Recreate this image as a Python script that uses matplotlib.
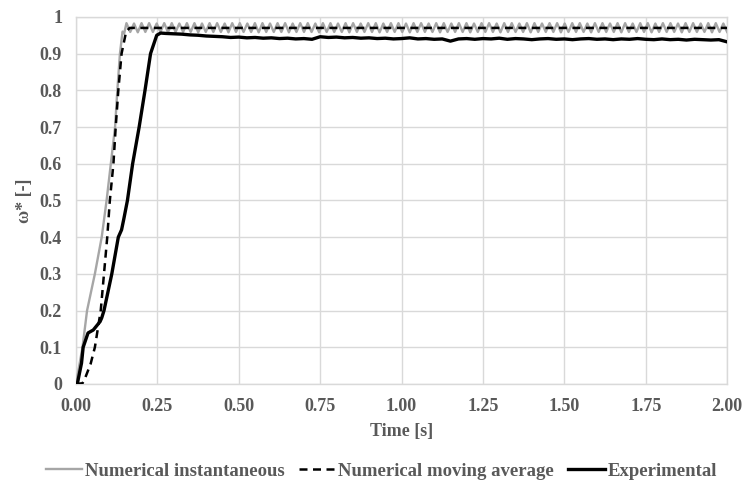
import numpy as np
import matplotlib
matplotlib.use("Agg")
import matplotlib.pyplot as plt

# ---- datos ----
# Numerico instantaneo: rampa de arranque
inst_t = [0, 0.020, 0.034, 0.058, 0.079, 0.094, 0.107, 0.120, 0.127, 0.135, 0.143, 0.148]
inst_v = [0, 0.10, 0.20, 0.30, 0.40, 0.50, 0.60, 0.70, 0.80, 0.90, 0.960, 0.955]
# Numerico instantaneo: oscilacion en regimen (picos / valles, 0.155 s -> 2.0 s)
inst_osc_v = [
    0.983, 0.959, 0.982, 0.958, 0.983, 0.959, 0.983, 0.959, 0.982, 0.959, 0.983, 0.958, 0.983, 0.959, 0.982, 0.959,
    0.983, 0.959, 0.983, 0.958, 0.982, 0.959, 0.983, 0.959, 0.983, 0.959, 0.982, 0.958, 0.983, 0.959, 0.983, 0.959,
    0.982, 0.959, 0.983, 0.958, 0.983, 0.959, 0.982, 0.959, 0.983, 0.959, 0.983, 0.958, 0.982, 0.959, 0.983, 0.959,
    0.983, 0.959, 0.982, 0.958, 0.983, 0.959, 0.983, 0.959, 0.982, 0.959, 0.983, 0.958, 0.983, 0.959, 0.982, 0.959,
    0.983, 0.959, 0.983, 0.958, 0.982, 0.959, 0.983, 0.959, 0.983, 0.959, 0.982, 0.958, 0.983, 0.959, 0.983, 0.959,
    0.982, 0.959, 0.983, 0.958, 0.983, 0.959, 0.982, 0.959, 0.983, 0.959, 0.983, 0.958, 0.982, 0.959, 0.983, 0.959,
    0.983, 0.959, 0.982, 0.958, 0.983, 0.959, 0.983, 0.959, 0.982, 0.959, 0.983, 0.958, 0.983, 0.959, 0.982, 0.959,
    0.983, 0.959, 0.983, 0.958, 0.982, 0.959, 0.983, 0.959, 0.983, 0.959, 0.982, 0.958, 0.983, 0.959, 0.983, 0.959,
    0.982, 0.959, 0.983, 0.958, 0.983, 0.959, 0.982, 0.959, 0.983, 0.959, 0.983, 0.958, 0.982, 0.959, 0.983, 0.959,
    0.983, 0.959, 0.982, 0.958, 0.983, 0.959, 0.983, 0.959, 0.982, 0.959, 0.983, 0.958, 0.983, 0.959, 0.982, 0.959,
]
inst_osc_t = np.linspace(0.155, 2.0, len(inst_osc_v))

# Numerico media movil
avg_t = [0, 0.020, 0.028, 0.045, 0.058, 0.076, 0.086, 0.096, 0.104, 0.115, 0.122, 0.130, 0.140, 0.154, 0.165, 2.0]
avg_v = [0, 0.002, 0.016, 0.055, 0.10, 0.20, 0.30, 0.40, 0.50, 0.60, 0.70, 0.80, 0.90, 0.960, 0.970, 0.970]

# Experimental: arranque
exp_t = [0, 0.004, 0.017, 0.022, 0.037, 0.053, 0.074, 0.079, 0.086, 0.098, 0.110, 0.130, 0.140,
         0.147, 0.158, 0.174, 0.194, 0.212, 0.229, 0.248, 0.260, 0.275]
exp_v = [0, 0.0, 0.057, 0.10, 0.139, 0.147, 0.170, 0.180, 0.20, 0.25, 0.30, 0.40, 0.42,
         0.45, 0.50, 0.60, 0.70, 0.80, 0.90, 0.950, 0.956, 0.955]
# Experimental: regimen, cada 0.025 s desde 0.300 s
exp_ss_v = [
    0.954, 0.953, 0.951, 0.950, 0.948, 0.947, 0.946, 0.944, 0.945, 0.943, 0.944, 0.942,
    0.943, 0.941, 0.942, 0.940, 0.941, 0.939, 0.946, 0.944, 0.945, 0.943, 0.944, 0.942,
    0.943, 0.941, 0.942, 0.940, 0.941, 0.943, 0.940, 0.941, 0.939, 0.940, 0.934, 0.940,
    0.941, 0.939, 0.941, 0.940, 0.942, 0.939, 0.941, 0.940, 0.938, 0.940, 0.941, 0.939,
    0.940, 0.938, 0.940, 0.941, 0.939, 0.940, 0.938, 0.940, 0.939, 0.941, 0.939, 0.938,
    0.940, 0.938, 0.939, 0.937, 0.939, 0.938, 0.937, 0.938, 0.932,
]
exp_ss_t = np.linspace(0.300, 2.0, len(exp_ss_v))

x_ticks = [0, 0.25, 0.5, 0.75, 1.0, 1.25, 1.5, 1.75, 2.0]
y_ticks = [0, 0.1, 0.2, 0.3, 0.4, 0.5, 0.6, 0.7, 0.8, 0.9, 1.0]
y_labels = ["0", "0.1", "0.2", "0.3", "0.4", "0.5", "0.6", "0.7", "0.8", "0.9", "1"]

# ---- estilo ----
txt = "#595959"
grid = "#d9d9d9"
plt.rcParams['font.family'] = ['Liberation Serif', 'DejaVu Serif']
plt.rcParams['font.weight'] = 'bold'

fig = plt.figure(figsize=(7.45, 4.83), dpi=100)
ax = fig.add_axes([0.102, 0.205, 0.874, 0.76])

ax.plot(list(inst_t) + list(inst_osc_t), list(inst_v) + list(inst_osc_v),
        color="#a6a6a6", lw=1.7, label="Numerical instantaneous", zorder=3)
ax.plot(avg_t, avg_v, color="black", lw=1.8, dashes=(3.2, 2.2),
        label="Numerical moving average", zorder=4)
ax.plot(list(exp_t) + list(exp_ss_t), list(exp_v) + list(exp_ss_v),
        color="black", lw=2.4, label="Experimental", zorder=5)

ax.set_xlim(0, 2.0)
ax.set_ylim(0, 1.0)
ax.set_xticks(x_ticks)
ax.set_xticklabels([f"{v:.2f}" for v in x_ticks])
ax.set_yticks(y_ticks)
ax.set_yticklabels(y_labels)
ax.tick_params(length=0, labelsize=13, colors=txt, pad=10)
ax.grid(True, color=grid, lw=1)
for s in ax.spines.values():
    s.set_color(grid)
    s.set_linewidth(1)

ax.set_xlabel("Time [s]", fontsize=13, color=txt, fontweight='bold', labelpad=6)
ax.set_ylabel("ω* [-]", fontsize=13, color=txt, fontweight='bold', labelpad=5)

fig.legend(loc="center", bbox_to_anchor=(0.512, 0.024), ncol=3, frameon=False,
           fontsize=13.5, labelcolor=txt, handlelength=1.95, handletextpad=0.15,
           columnspacing=0.75)

fig.savefig("out.png", dpi=100)
